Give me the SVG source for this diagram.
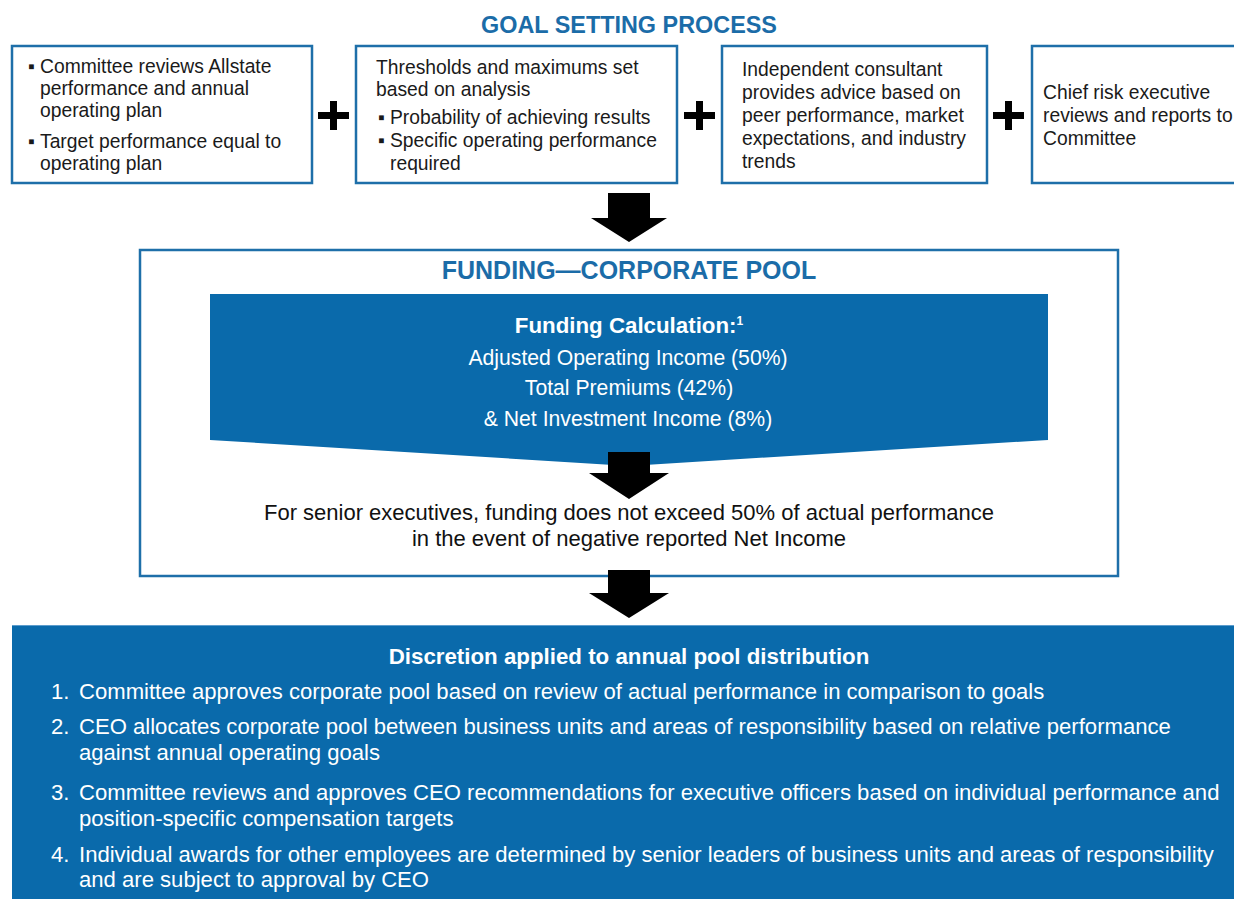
<svg xmlns="http://www.w3.org/2000/svg" width="1234" height="899" viewBox="0 0 1234 899">
<style>
.t{font-family:"Liberation Sans",Arial,Helvetica,sans-serif;}
.h{font-size:23.4px;font-weight:bold;fill:#1b6ca8;text-anchor:middle;}
.h2{font-size:25px;}
.b{font-size:19.3px;fill:#1a1a1a;}
.w{font-size:22.1px;fill:#ffffff;}
.c{font-size:21.2px;fill:#ffffff;text-anchor:middle;}
.wb{font-size:22.3px;fill:#ffffff;font-weight:bold;text-anchor:middle;}
.k{font-size:22px;fill:#111;text-anchor:middle;}
.box{fill:#ffffff;stroke:#1e6fa9;stroke-width:2.5;}
.blue{fill:#0a6aab;}
.arrow{fill:#000;}
</style>
<rect width="1234" height="899" fill="#ffffff"/>
<text class="t h" x="629" y="33">GOAL SETTING PROCESS</text>

<g id="goal1">
<rect class="box" x="12" y="46" width="300" height="137"/>
<text class="t b"><tspan x="28" y="73">▪</tspan><tspan x="40" y="73">Committee reviews Allstate</tspan><tspan x="40" y="95">performance and annual</tspan><tspan x="40" y="117">operating plan</tspan><tspan x="28" y="148">▪</tspan><tspan x="40" y="148">Target performance equal to</tspan><tspan x="40" y="170">operating plan</tspan></text>
</g>
<g id="goal2">
<rect class="box" x="356" y="46" width="321" height="137"/>
<text class="t b"><tspan x="376" y="74">Thresholds and maximums set</tspan><tspan x="376" y="96">based on analysis</tspan><tspan x="378" y="124">▪</tspan><tspan x="390" y="124">Probability of achieving results</tspan><tspan x="378" y="147">▪</tspan><tspan x="390" y="147">Specific operating performance</tspan><tspan x="390" y="170">required</tspan></text>
</g>
<g id="goal3">
<rect class="box" x="722" y="46" width="265" height="137"/>
<text class="t b"><tspan x="742" y="76">Independent consultant</tspan><tspan x="742" y="99">provides advice based on</tspan><tspan x="742" y="122">peer performance, market</tspan><tspan x="742" y="145">expectations, and industry</tspan><tspan x="742" y="168">trends</tspan></text>
</g>
<g id="goal4">
<rect class="box" x="1032" y="46" width="215" height="137"/>
<text class="t b"><tspan x="1043" y="99">Chief risk executive</tspan><tspan x="1043" y="122">reviews and reports to</tspan><tspan x="1043" y="145">Committee</tspan></text>
</g>

<g id="plus-signs" class="arrow">
<path d="M330 101h7v11h12v7h-12v11h-7v-11h-12v-7h12z"/>
<path d="M696 101h7v11h12v7h-12v11h-7v-11h-12v-7h12z"/>
<path d="M1005 101h7v11h12v7h-12v11h-7v-11h-12v-7h12z"/>
</g>

<g id="funding">
<rect class="box" x="140" y="250" width="978" height="326"/>
<text class="t h h2" x="629" y="279">FUNDING—CORPORATE POOL</text>
</g>
<g id="funding-calc">
<path class="blue" d="M210 294H1048V440L629 466L210 440Z"/>
<text class="t wb" x="629" y="333">Funding Calculation:<tspan font-size="12" dy="-8">1</tspan></text>
<text class="t c" x="628" y="365">Adjusted Operating Income (50%)</text>
<text class="t c" x="629" y="395">Total Premiums (42%)</text>
<text class="t c" x="628" y="426">&amp; Net Investment Income (8%)</text>
</g>
<g id="cap-note">
<text class="t k" x="629" y="520">For senior executives, funding does not exceed 50% of actual performance</text>
<text class="t k" x="629" y="546">in the event of negative reported Net Income</text>
</g>

<g id="discretion">
<rect class="blue" x="12" y="625" width="1240" height="290"/>
<line x1="12" y1="625.5" x2="1234" y2="625.5" stroke="#5c9ccc" stroke-width="1"/>
<text class="t wb" x="629" y="664">Discretion applied to annual pool distribution</text>
<text class="t w"><tspan x="51" y="699">1.</tspan><tspan x="79" y="699">Committee approves corporate pool based on review of actual performance in comparison to goals</tspan><tspan x="51" y="734">2.</tspan><tspan x="79" y="734">CEO allocates corporate pool between business units and areas of responsibility based on relative performance</tspan><tspan x="79" y="760">against annual operating goals</tspan><tspan x="51" y="800">3.</tspan><tspan x="79" y="800">Committee reviews and approves CEO recommendations for executive officers based on individual performance and</tspan><tspan x="79" y="826">position-specific compensation targets</tspan><tspan x="51" y="862">4.</tspan><tspan x="79" y="862">Individual awards for other employees are determined by senior leaders of business units and areas of responsibility</tspan><tspan x="79" y="887">and are subject to approval by CEO</tspan></text>
</g>

<g id="connectors" class="arrow">
<path d="M608 193H650V218H667L629 242L591 218H608Z"/>
<path d="M608 452H650V473H669L629 499L589 473H608Z"/>
<path d="M608 570H650V593H669L629 618L589 593H608Z"/>
</g>
</svg>
